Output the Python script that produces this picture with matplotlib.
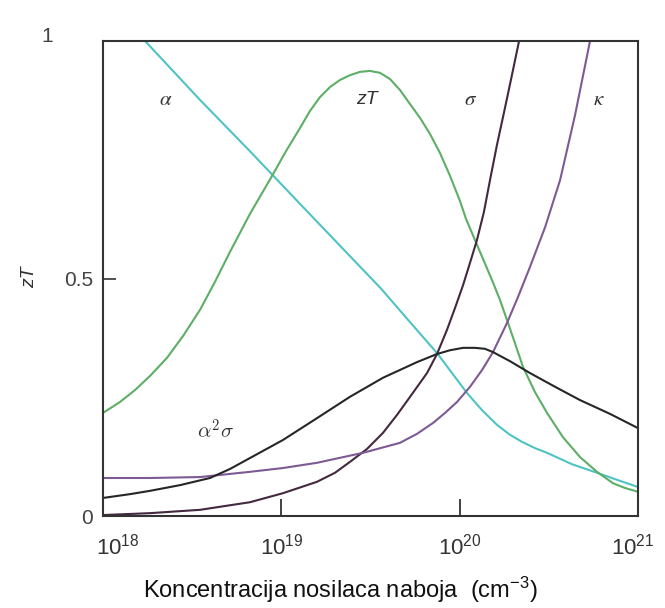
import numpy as np
import matplotlib
matplotlib.use('Agg')
import matplotlib.pyplot as plt
from matplotlib.transforms import ScaledTranslation

# carrier concentration given as log10(n / cm^-3)
alpha_x = [18.236, 18.544, 18.824, 19.105, 19.385, 19.556, 19.722, 19.873, 19.957, 20.041,
           20.125, 20.209, 20.282, 20.350, 20.422, 20.490, 20.630, 20.770, 20.899, 21.0]
alpha_y = [1.000, 0.876, 0.768, 0.657, 0.547, 0.480, 0.408, 0.343, 0.301, 0.259,
           0.223, 0.192, 0.171, 0.156, 0.143, 0.133, 0.109, 0.091, 0.074, 0.061]

zt_x = [18.000, 18.095, 18.179, 18.264, 18.359, 18.449, 18.544, 18.628, 18.712, 18.824,
        18.948, 19.026, 19.105, 19.161, 19.217, 19.273, 19.329, 19.385, 19.441, 19.497,
        19.553, 19.609, 19.665, 19.722, 19.778, 19.834, 19.890, 19.946, 20.002, 20.036,
        20.086, 20.131, 20.181, 20.226, 20.265, 20.310, 20.355, 20.422, 20.490, 20.579,
        20.675, 20.770, 20.860, 20.927, 21.000]
zt_y = [0.217, 0.240, 0.265, 0.295, 0.333, 0.379, 0.434, 0.493, 0.556, 0.636,
        0.716, 0.768, 0.817, 0.853, 0.882, 0.903, 0.918, 0.928, 0.935, 0.937,
        0.933, 0.920, 0.897, 0.867, 0.838, 0.804, 0.764, 0.716, 0.663, 0.625,
        0.581, 0.541, 0.497, 0.455, 0.413, 0.364, 0.314, 0.261, 0.217, 0.166,
        0.124, 0.093, 0.069, 0.059, 0.051]

sigma_x = [18.000, 18.264, 18.544, 18.824, 19.009, 19.200, 19.301, 19.385, 19.480, 19.570,
           19.649, 19.722, 19.817, 19.873, 19.929, 19.974, 20.019, 20.058, 20.097, 20.136,
           20.170, 20.209, 20.254, 20.293, 20.333]
sigma_y = [0.002, 0.006, 0.013, 0.029, 0.048, 0.072, 0.091, 0.114, 0.141, 0.175,
           0.213, 0.251, 0.301, 0.341, 0.392, 0.438, 0.486, 0.533, 0.581, 0.640,
           0.707, 0.781, 0.859, 0.928, 1.000]

kappa_x = [18.000, 18.264, 18.544, 18.824, 19.009, 19.200, 19.458, 19.665, 19.761, 19.851,
           19.918, 19.985, 20.058, 20.125, 20.187, 20.265, 20.327, 20.394, 20.479, 20.563,
           20.647, 20.731]
kappa_y = [0.080, 0.080, 0.082, 0.093, 0.101, 0.112, 0.133, 0.154, 0.173, 0.196,
           0.217, 0.240, 0.272, 0.307, 0.345, 0.406, 0.461, 0.524, 0.608, 0.707,
           0.844, 1.000]

pf_x = [18.000, 18.151, 18.264, 18.432, 18.600, 18.712, 18.824, 19.009, 19.200, 19.385,
        19.570, 19.761, 19.873, 19.946, 20.019, 20.086, 20.142, 20.187, 20.282, 20.394,
        20.535, 20.675, 20.843, 21.000]
pf_y = [0.038, 0.046, 0.053, 0.065, 0.080, 0.099, 0.122, 0.160, 0.206, 0.251,
        0.291, 0.324, 0.341, 0.349, 0.354, 0.354, 0.352, 0.345, 0.326, 0.301,
        0.272, 0.244, 0.215, 0.185]

x_ticks = [1e18, 1e19, 1e20, 1e21]
x_ticklabels = [r'$\mathdefault{10^{18}}$', r'$\mathdefault{10^{19}}$',
                r'$\mathdefault{10^{20}}$', r'$\mathdefault{10^{21}}$']
y_ticks = [0, 0.5, 1]
y_ticklabels = ['0', '0.5', '1']

plt.rcParams['font.family'] = ['Liberation Sans Narrow', 'Liberation Sans', 'DejaVu Sans']
plt.rcParams['mathtext.default'] = 'it'

fig = plt.figure(figsize=(6.65, 6.08), dpi=100)
ax = fig.add_axes([103 / 665, 1 - 516 / 608, 535 / 665, 475 / 608])

lw = 1.5
ax.plot(10 ** np.array(alpha_x), alpha_y, color='#4fc3c4', lw=lw)
ax.plot(10 ** np.array(zt_x), zt_y, color='#5dae66', lw=lw)
ax.plot(10 ** np.array(sigma_x), sigma_y, color='#43283f', lw=lw)
ax.plot(10 ** np.array(kappa_x), kappa_y, color='#7d5a93', lw=lw)
ax.plot(10 ** np.array(pf_x), pf_y, color='#262626', lw=lw)

ax.set_xscale('log')
ax.set_xlim(1e18, 1e21)
ax.set_ylim(0, 1)
ax.set_xticks(x_ticks)
ax.set_xticklabels(x_ticklabels)
ax.minorticks_off()
ax.set_yticks(y_ticks)
ax.set_yticklabels(y_ticklabels)
ax.tick_params(axis='x', direction='in', length=12, width=1.3, pad=13,
               labelsize=16, colors='#333333')
ax.tick_params(axis='y', direction='in', length=9, width=1.3, pad=7,
               labelsize=15, colors='#444444')
for s in ax.spines.values():
    s.set_linewidth(1.5)
    s.set_color('#333333')

# nudge a few tick labels like in the original
lbl = ax.get_xticklabels()
lbl[0].set_transform(lbl[0].get_transform() + ScaledTranslation(0.15, 0, fig.dpi_scale_trans))
lbl[3].set_transform(lbl[3].get_transform() + ScaledTranslation(-0.05, 0, fig.dpi_scale_trans))
ylbl = ax.get_yticklabels()
ylbl[2].set_transform(ylbl[2].get_transform() + ScaledTranslation(-0.4, 0.06, fig.dpi_scale_trans))

# curve names
tk = dict(fontsize=15, color='#333333', ha='center', va='center')
ax.text(10 ** 18.35, 0.876, r'$\alpha$', math_fontfamily='stix', **tk)
ax.text(10 ** 19.48, 0.876, 'zT', style='italic', family=['Liberation Sans', 'DejaVu Sans'],
        ha='center', va='center', fontsize=14, color='#333333')
ax.text(10 ** 20.06, 0.876, r'$\sigma$', math_fontfamily='stix', **tk)
ax.text(10 ** 20.78, 0.876, r'$\kappa$', math_fontfamily='stix', **tk)
ax.text(10 ** 18.63, 0.18, r'$\alpha^{\mathrm{2}}\sigma$', math_fontfamily='cm', **tk)

fig.text(30 / 665, 1 - 277 / 608, 'zT', rotation=90, style='italic', ha='center', va='center',
         fontsize=14, color='#333333', family=['Liberation Sans', 'DejaVu Sans'])
fig.text(340 / 665, 1 - 590 / 608, r'Koncentracija nosilaca naboja  (cm$\mathdefault{^{-3}}$)',
         ha='center', va='center', fontsize=17, color='#111111')

fig.savefig('out.png', dpi=100)
